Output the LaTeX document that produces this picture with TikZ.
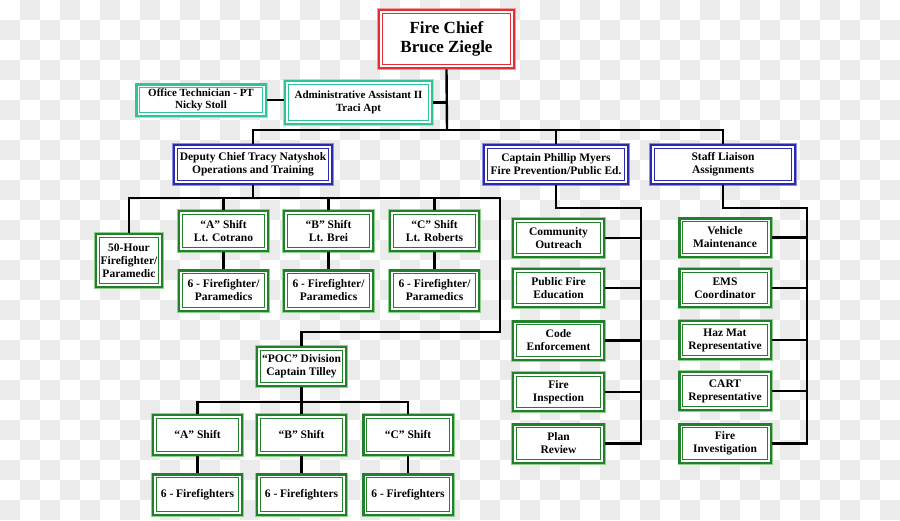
\documentclass[tikz,border=0pt]{standalone}
\usepackage{fontspec}
\setmainfont{Liberation Serif}
\definecolor{checkgray}{HTML}{EBEBEB}
\definecolor{gdark}{HTML}{23802A}
\definecolor{glight}{HTML}{8FD08F}
\definecolor{bdark}{HTML}{2A2AAE}
\definecolor{blight}{HTML}{8C8CE0}
\definecolor{rdark}{HTML}{E42E35}
\definecolor{rlight}{HTML}{F39A9A}
\definecolor{tdark}{HTML}{2EC49A}
\definecolor{tlight}{HTML}{9AE6CC}
\tikzset{
  obox/.style 2 args={rectangle, fill=white, draw=#1, line width=2.4pt,
    preaction={draw=#2, line width=3.6pt},
    path picture={\draw[#1, line width=1.1pt]
      ([shift={(3.4pt,3.4pt)}]path picture bounding box.south west) rectangle
      ([shift={(-3.4pt,-3.4pt)}]path picture bounding box.north east);},
    align=center, inner sep=0pt, font=\bfseries\fontsize{11.5}{13}\selectfont},
  gbox/.style={obox={gdark}{glight}},
  bbox/.style={obox={bdark}{blight}},
  rbox/.style={obox={rdark}{rlight}, font=\bfseries\fontsize{17}{19.5}\selectfont},
  tbox/.style={obox={tdark}{tlight}, font=\bfseries\fontsize{11}{12.5}\selectfont},
  shiftsz/.style={minimum width=89.4pt, minimum height=40.4pt},
  sidesz/.style={minimum width=91.4pt, minimum height=38.4pt},
  conn/.style={draw=black, line width=2.4pt},
}
\begin{document}
\begin{tikzpicture}[x=1pt,y=-1pt]
\useasboundingbox (0,0) rectangle (900,520);
% checkerboard background
\begin{scope}
\clip (0,0) rectangle (900,520);
\foreach \j in {0,...,25}{
  \pgfmathtruncatemacro\st{mod(\j+1,2)}
  \foreach \i in {0,2,...,44}{
    \fill[checkgray] ({(\i+\st)*20},{\j*20}) rectangle ++(20,20);
  }
}
\end{scope}

% top
\node[rbox, minimum width=135.4pt, minimum height=58.4pt] (chief) at (446.5,39) {Fire Chief\\Bruce Ziegle};
\node[tbox, minimum width=129.4pt, minimum height=31.4pt] (office) at (201,100) {Office Technician - PT\\Nicky Stoll};
\node[tbox, minimum width=147.4pt, minimum height=43.4pt] (admin) at (358.5,102.5) {Administrative Assistant II\\Traci Apt};

% second level
\node[bbox, minimum width=158.4pt, minimum height=39.4pt] (dep) at (253,164.5) {Deputy Chief Tracy Natyshok\\Operations and Training};
\node[bbox, minimum width=144.4pt, minimum height=39.4pt] (cap) at (556,164.5) {Captain Phillip Myers\\Fire Prevention/Public Ed.};
\node[bbox, minimum width=144.4pt, minimum height=39.4pt] (staff) at (723,164.5) {Staff Liaison\\Assignments};

% operations
\node[gbox, minimum width=66.4pt, minimum height=53.4pt] (fifty) at (129,260.5) {50-Hour\\Firefighter/\\Paramedic};
\node[gbox, shiftsz] (ashift) at (223.5,231) {“A” Shift\\Lt. Cotrano};
\node[gbox, shiftsz] (bshift) at (328.5,231) {“B” Shift\\Lt. Brei};
\node[gbox, shiftsz] (cshift) at (434.5,231) {“C” Shift\\Lt. Roberts};
\node[gbox, shiftsz] (aff) at (223.5,290.5) {6 - Firefighter/\\Paramedics};
\node[gbox, shiftsz] (bff) at (328.5,290.5) {6 - Firefighter/\\Paramedics};
\node[gbox, shiftsz] (cff) at (434.5,290.5) {6 - Firefighter/\\Paramedics};

% POC
\node[gbox, minimum width=89.4pt, minimum height=39.4pt] (poc) at (301.5,366.5) {“POC” Division\\Captain Tilley};
\node[gbox, shiftsz] (pa) at (197.5,435) {“A” Shift};
\node[gbox, shiftsz] (pb) at (301.5,435) {“B” Shift};
\node[gbox, shiftsz] (pc) at (408,435) {“C” Shift};
\node[gbox, shiftsz] (paf) at (197.5,494.5) {6 - Firefighters};
\node[gbox, shiftsz] (pbf) at (301.5,494.5) {6 - Firefighters};
\node[gbox, shiftsz] (pcf) at (408,494.5) {6 - Firefighters};

% fire prevention
\node[gbox, sidesz] (comm) at (558.5,238) {Community\\Outreach};
\node[gbox, sidesz] (pfe) at (558.5,288) {Public Fire\\Education};
\node[gbox, sidesz] (code) at (558.5,340.5) {Code\\Enforcement};
\node[gbox, sidesz] (insp) at (558.5,392) {Fire\\Inspection};
\node[gbox, sidesz] (plan) at (558.5,443.5) {Plan\\Review};

% staff liaison
\node[gbox, sidesz] (veh) at (725,237.5) {Vehicle\\Maintenance};
\node[gbox, sidesz] (ems) at (725,288) {EMS\\Coordinator};
\node[gbox, sidesz] (haz) at (725,340) {Haz Mat\\Representative};
\node[gbox, sidesz] (cart) at (725,391) {CART\\Representative};
\node[gbox, sidesz] (finv) at (725,443.5) {Fire\\Investigation};

% coordinates
\coordinate (b1) at (447,130);
\coordinate (d1) at (253,198);
\coordinate (dr) at (500,198);
\coordinate (dr2) at (500,332);
\coordinate (cp1) at (641,208);
\coordinate (st1) at (807,208);
\coordinate (p1) at (301.5,402);

% connectors
\draw[conn] (chief.south) -- (b1);
\draw[conn] (dep.north) |- (b1) -| (staff.north);
\draw[conn] (cap.north) -- (cap.north |- b1);
\draw[conn] (admin.east) -- (admin.east -| b1);
\draw[conn] (office.east) -- (office.east -| admin.west);

\draw[conn] (dep.south) -- (d1);
\draw[conn] (fifty.north) |- (dr) -- (dr2) -| (poc.north);
\draw[conn] (ashift.north) -- (ashift.north |- d1);
\draw[conn] (bshift.north) -- (bshift.north |- d1);
\draw[conn] (cshift.north) -- (cshift.north |- d1);
\draw[conn] (ashift) -- (aff);
\draw[conn] (bshift) -- (bff);
\draw[conn] (cshift) -- (cff);

\draw[conn] (poc.south) -- (p1);
\draw[conn] (pa.north) |- (p1) -| (pc.north);
\draw[conn] (pb.north) -- (p1);
\draw[conn] (pa) -- (paf);
\draw[conn] (pb) -- (pbf);
\draw[conn] (pc) -- (pcf);

\draw[conn] (cap.south) |- (cp1) |- (plan.east);
\draw[conn] (comm.east) -- (comm.east -| cp1);
\draw[conn] (pfe.east) -- (pfe.east -| cp1);
\draw[conn] (code.east) -- (code.east -| cp1);
\draw[conn] (insp.east) -- (insp.east -| cp1);

\draw[conn] (staff.south) |- (st1) |- (finv.east);
\draw[conn] (veh.east) -- (veh.east -| st1);
\draw[conn] (ems.east) -- (ems.east -| st1);
\draw[conn] (haz.east) -- (haz.east -| st1);
\draw[conn] (cart.east) -- (cart.east -| st1);
\end{tikzpicture}
\end{document}
